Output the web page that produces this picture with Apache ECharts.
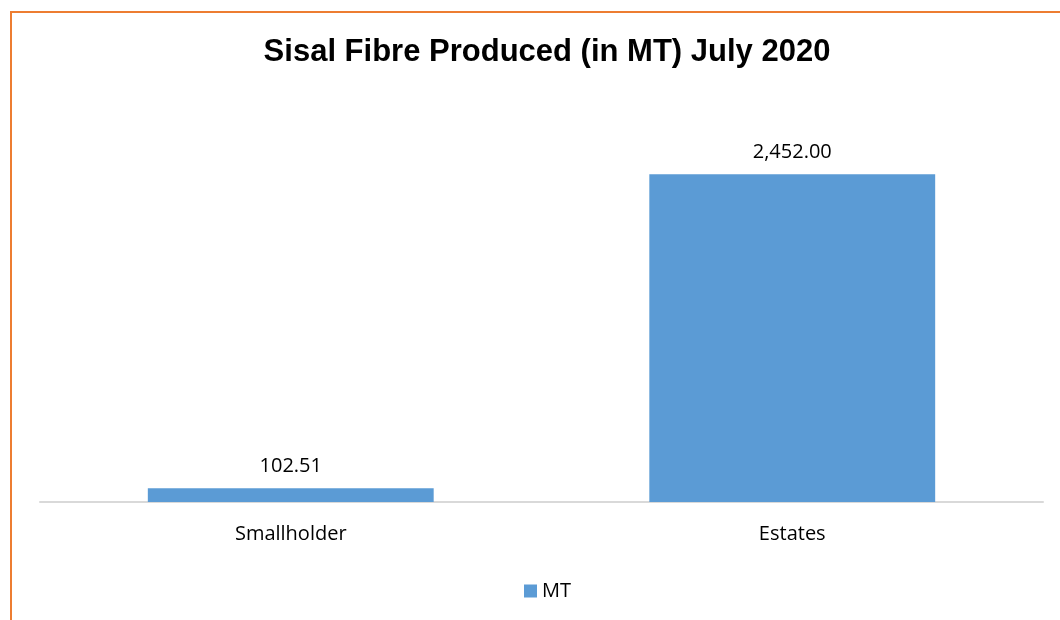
<!DOCTYPE html>
<html>
<head>
<meta charset="utf-8">
<script src="https://cdn.jsdelivr.net/npm/echarts@6/dist/echarts.min.js"></script>
<style>
  html, body { margin: 0; padding: 0; background: #fff; overflow: hidden; }
  #chart { width: 1060px; height: 620px; }
</style>
</head>
<body>
<div id="chart"></div>
<script>
// 剑麻纤维产量数据
const categories = ['Smallholder', 'Estates']
const values = [102.51, 2452.0]
const seriesName = 'MT'

const chart = echarts.init(document.getElementById('chart'))
const font = 'Open Sans, Liberation Sans, sans-serif'

chart.setOption({
  animation: false,
  title: {
    text: 'Sisal Fibre Produced (in MT) July 2020',
    left: 542,
    top: 32,
    textAlign: 'center',
    textStyle: { fontFamily: 'Liberation Sans, Arial, sans-serif', fontWeight: 'bold', fontSize: 31, color: '#000' },
  },
  graphic: [
    {
      type: 'rect',
      shape: { x: 11, y: 12, width: 1200, height: 800 },
      style: { fill: 'none', stroke: '#ED7D31', lineWidth: 2 },
      silent: true,
    },
  ],
  legend: {
    data: [seriesName],
    left: 519,
    top: 576,
    itemWidth: 13,
    itemHeight: 13,
    itemGap: 4,
    textStyle: { fontFamily: font, fontSize: 20, color: '#000' },
    icon: 'rect',
  },
  grid: { left: 40, right: 17, top: 101, bottom: 118 },
  xAxis: {
    type: 'category',
    data: categories,
    axisLine: { lineStyle: { color: '#d9d9d9', width: 2 } },
    axisTick: { show: false },
    axisLabel: { fontFamily: font, fontSize: 20, color: '#000', margin: 22 },
  },
  yAxis: {
    type: 'value',
    min: 0,
    max: 3000,
    show: false,
    splitLine: { show: false },
  },
  series: [
    {
      name: seriesName,
      type: 'bar',
      data: values,
      barWidth: '57%',
      itemStyle: { color: '#5B9BD5' },
      label: {
        show: true,
        position: 'top',
        distance: 12,
        fontFamily: font,
        fontSize: 20,
        color: '#000',
        formatter: (p) =>
          p.value.toLocaleString('en-US', { minimumFractionDigits: 2, maximumFractionDigits: 2 }),
      },
    },
  ],
})
</script>
</body>
</html>
